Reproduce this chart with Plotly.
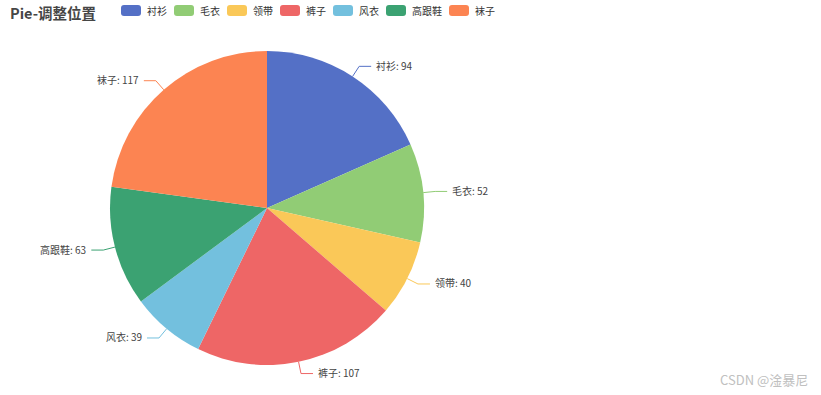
import math
import plotly.graph_objects as go

title = "Pie-调整位置"
categories = ["衬衫", "毛衣", "领带", "裤子", "风衣", "高跟鞋", "袜子"]
values = [94, 52, 40, 107, 39, 63, 117]
colors = ["#5470c6", "#91cc75", "#fac858", "#ee6666", "#73c0de", "#3ba272", "#fc8452"]
watermark = "CSDN @淦暴尼"

W, H = 821, 395
cx, cy, R = 267, 208, 157
FONT = "Noto Sans CJK SC, Noto Sans, sans-serif"


def px(x):
    return x / W


def py(y):
    return 1 - y / H


fig = go.Figure(go.Pie(
    labels=categories, values=values, sort=False, direction="clockwise", rotation=0,
    marker=dict(colors=colors, line=dict(width=0)),
    textinfo="none", hoverinfo="label+value+percent", showlegend=False,
    domain=dict(x=[px(cx - R), px(cx + R)], y=[py(cy + R), py(cy - R)]),
))

shapes = []
annotations = []

# outside labels with leader lines (positions derived from the values)
total = sum(values)
cum = 0
L1, L2, GAP = 12, 12, 3
for name, v, c in zip(categories, values, colors):
    mid = (cum + v / 2) / total * 2 * math.pi
    cum += v
    sx, sy = math.sin(mid), -math.cos(mid)
    x0, y0 = cx + R * sx, cy + R * sy
    x1, y1 = cx + (R + L1) * sx, cy + (R + L1) * sy
    side = 1 if sx >= 0 else -1
    x2, y2 = x1 + side * L2, y1
    shapes.append(dict(
        type="path", xref="paper", yref="paper",
        path=f"M {px(x0)},{py(y0)} L {px(x1)},{py(y1)} L {px(x2)},{py(y2)}",
        line=dict(color=c, width=1),
    ))
    annotations.append(dict(
        x=px(x2 + side * GAP), y=py(y2 - 1), xref="paper", yref="paper",
        text=f"{name}: {v}", showarrow=False,
        xanchor="left" if side > 0 else "right", yanchor="middle",
        font=dict(family=FONT, size=10, color="#444"),
    ))

# custom legend (ECharts style)
lx = 121
ly = 10.5
iw, ih, rr = 20, 11, 3
for name, c in zip(categories, colors):
    a, b = lx, lx + iw
    t, bt = ly - ih / 2, ly + ih / 2
    path = (f"M {px(a + rr)},{py(t)} L {px(b - rr)},{py(t)} Q {px(b)},{py(t)} {px(b)},{py(t + rr)} "
            f"L {px(b)},{py(bt - rr)} Q {px(b)},{py(bt)} {px(b - rr)},{py(bt)} "
            f"L {px(a + rr)},{py(bt)} Q {px(a)},{py(bt)} {px(a)},{py(bt - rr)} "
            f"L {px(a)},{py(t + rr)} Q {px(a)},{py(t)} {px(a + rr)},{py(t)} Z")
    shapes.append(dict(type="path", xref="paper", yref="paper", path=path,
                       fillcolor=c, line=dict(width=0)))
    annotations.append(dict(
        x=px(b + 4), y=py(ly), xref="paper", yref="paper", text=name, showarrow=False,
        xanchor="left", yanchor="middle", font=dict(family=FONT, size=10, color="#333"),
    ))
    lx = b + 4 + 10 * len(name) + 9

# title
annotations.append(dict(
    x=px(8), y=py(12), xref="paper", yref="paper", text=f"<b>{title}</b>", showarrow=False,
    xanchor="left", yanchor="middle", font=dict(family=FONT, size=14.5, color="#464646"),
))
# watermark
annotations.append(dict(
    x=px(810), y=py(379), xref="paper", yref="paper", text=watermark, showarrow=False,
    xanchor="right", yanchor="middle", font=dict(family=FONT, size=13, color="#c0c0c0"),
))

fig.update_layout(
    width=W, height=H, margin=dict(l=0, r=0, t=0, b=0),
    paper_bgcolor="white", plot_bgcolor="white",
    shapes=shapes, annotations=annotations,
)

fig.write_html("out.html")
